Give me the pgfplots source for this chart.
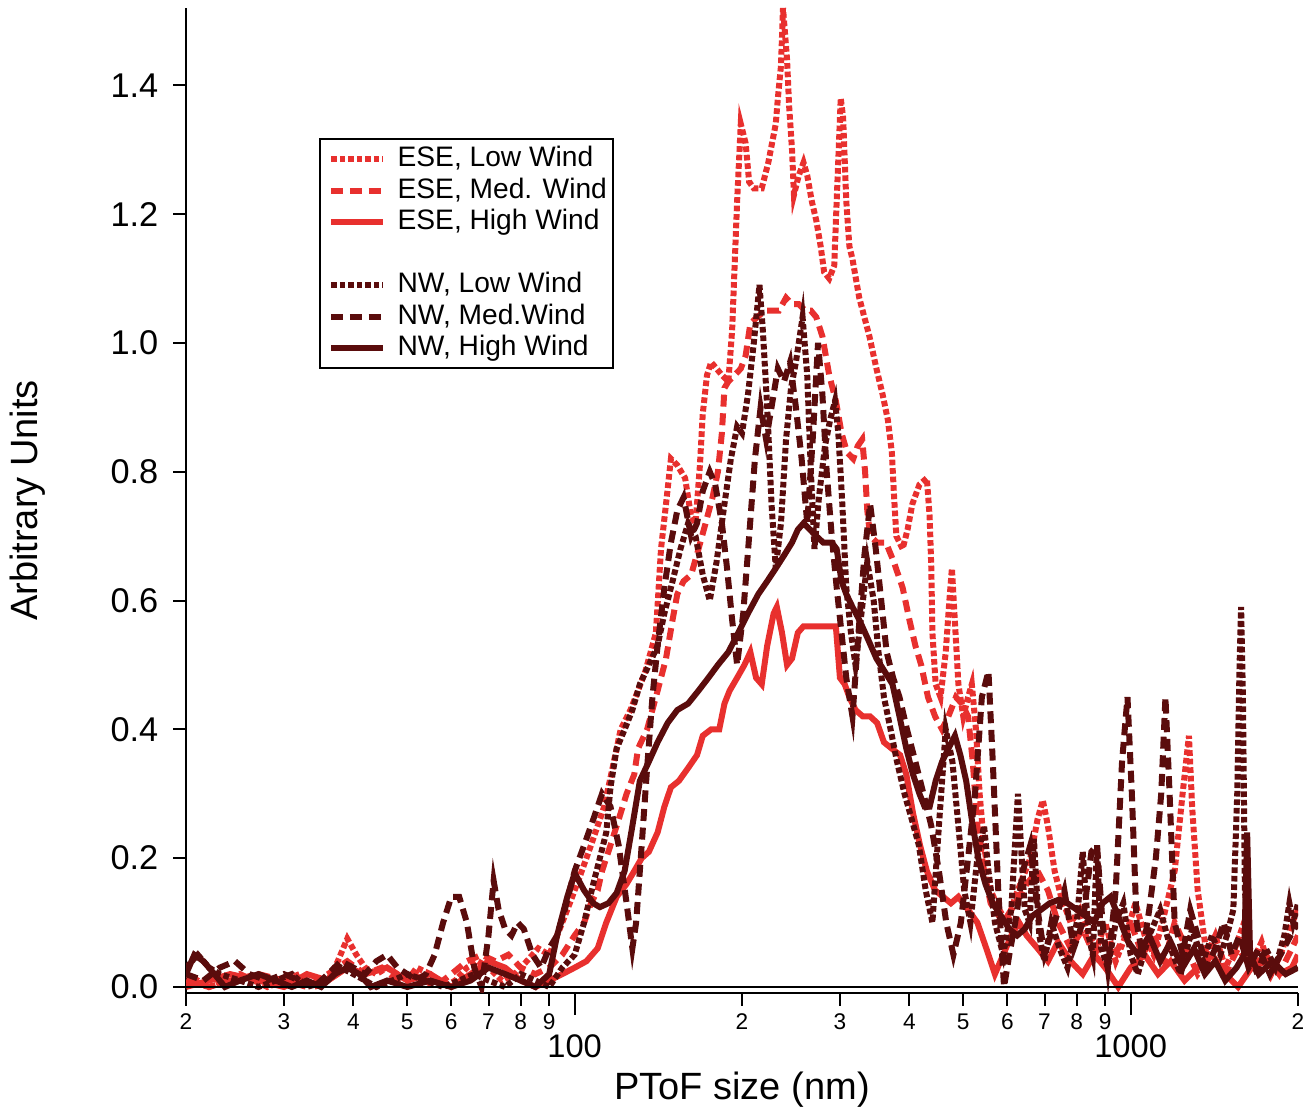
\documentclass[border=0pt]{standalone}
\usepackage{fontspec}
\setmainfont{Liberation Sans}
\usepackage{pgfplots}
\pgfplotsset{compat=1.18}
\definecolor{ese}{RGB}{232,48,46}
\definecolor{nw}{RGB}{90,12,12}
\begin{document}
\begin{tikzpicture}
\begin{axis}[
  scale only axis, width=333.6pt, height=295.5pt,
  xmode=log, xmin=20, xmax=2000, ymin=-0.0093, ymax=1.52,
  axis x line=bottom, axis y line=left,
  axis line style={-, line width=0.6pt, black},
  tick style={black, line width=0.6pt},
  tick align=outside,
  major tick length=3.8pt,
  xminorticks=false, yminorticks=false,
  xtick={20,30,40,50,60,70,80,90,200,300,400,500,600,700,800,900,2000},
  xticklabels={2,3,4,5,6,7,8,9,2,3,4,5,6,7,8,9,2},
  x tick label style={font=\fontsize{6.8}{8}\selectfont, yshift=1pt},
  extra x ticks={100,1000},
  extra x tick labels={{\fontsize{9.8}{11}\selectfont 100},{\fontsize{9.8}{11}\selectfont 1000}},
  extra x tick style={major tick length=6.6pt, tick label style={yshift=-3.5pt}},
  ytick={0,0.2,0.4,0.6,0.8,1.0,1.2,1.4},
  y tick label style={font=\fontsize{10.3}{12}\selectfont, xshift=-1pt, /pgf/number format/.cd, fixed, fixed zerofill, precision=1},
  /pgf/number format/assume math mode=true,
  xlabel={PToF size (nm)}, ylabel={Arbitrary Units},
  xlabel style={font=\fontsize{11.4}{13}\selectfont, at={(axis description cs:0.5,-0.0985)}, anchor=center},
  ylabel style={font=\fontsize{11.4}{13}\selectfont, at={(axis description cs:-0.142,0.5)}, anchor=center},
  legend cell align=left,
  legend image code/.code={\path (0pt,0pt); \draw[#1] (1.5pt,0pt) -- (17.1pt,0pt);},
  legend style={at={(axis description cs:0.1196,0.868)}, anchor=north west, draw=black, line width=0.6pt, fill=white,
    font=\fontsize{8.45}{10}\selectfont, inner xsep=1pt, inner ysep=1.3pt, row sep=0pt, column sep=2.6pt,
    nodes={inner ysep=0.55pt, inner xsep=0.8pt, text height=6.55pt, text depth=1.8pt}},
]
\addplot[ese, line width=1.8pt, dash pattern=on 1.7pt off 0.85pt] coordinates {
(20,0.02)(21,0.01)(22,0.00)(23.5,0.01)(25,0.02)(26.5,0.01)(28,0.00)(30,0.01)(32,0.02)(34,0.00)(36,0.01)(37.5,0.04)(39,0.075)(40.5,0.05)(42,0.03)(44,0.02)(46,0.03)(48,0.02)(50,0.01)(52,0.03)(55,0.02)(58,0.00)(61,0.01)(64,0.03)(67,0.04)(70,0.03)(74,0.01)(78,0.02)(82,0.04)(86,0.06)(90,0.05)(94,0.09)(98,0.13)(102,0.17)(106,0.21)(110,0.25)(113,0.28)(117,0.34)(121,0.40)(126,0.43)(130,0.46)(134,0.49)(137,0.52)(140,0.55)(143,0.68)(146,0.75)(149,0.82)(153,0.81)(158,0.79)(162,0.73)(165,0.72)(168,0.81)(170,0.89)(173,0.95)(176,0.97)(180,0.96)(184,0.95)(189,0.94)(192,1.02)(196,1.22)(199,1.34)(203,1.31)(206,1.25)(210,1.24)(217,1.24)(223,1.28)(230,1.34)(232,1.38)(235,1.43)(237,1.52)(241,1.44)(243,1.37)(246,1.30)(248,1.23)(253,1.26)(258,1.28)(262,1.26)(267,1.22)(272,1.19)(277,1.15)(281,1.11)(287,1.10)(293,1.12)(296,1.22)(301,1.38)(304,1.35)(308,1.22)(312,1.15)(316,1.13)(325,1.07)(339,1.01)(349,0.96)(358,0.92)(366,0.88)(372,0.83)(375,0.77)(379,0.70)(389,0.68)(397,0.71)(405,0.75)(417,0.78)(430,0.79)(435,0.73)(438,0.65)(440,0.55)(446,0.47)(455,0.45)(465,0.52)(472,0.60)(477,0.65)(482,0.58)(490,0.47)(500,0.42)(510,0.45)(518,0.47)(527,0.40)(535,0.30)(545,0.22)(560,0.15)(580,0.12)(600,0.10)(620,0.14)(640,0.17)(660,0.20)(680,0.26)(695,0.29)(710,0.25)(730,0.18)(750,0.14)(780,0.10)(810,0.12)(840,0.08)(870,0.06)(900,0.10)(940,0.04)(980,0.08)(1020,0.13)(1060,0.08)(1100,0.05)(1140,0.10)(1200,0.18)(1240,0.30)(1273,0.39)(1290,0.28)(1320,0.15)(1370,0.05)(1420,0.08)(1480,0.03)(1540,0.06)(1600,0.10)(1660,0.04)(1720,0.07)(1790,0.02)(1860,0.05)(1930,0.09)(2000,0.12)
};
\addlegendentry{ESE, Low Wind}
\addplot[ese, line width=1.8pt, dash pattern=on 3.6pt off 2pt] coordinates {
(20,0.01)(22,0.00)(24,0.01)(27,0.02)(30,0.01)(33,0.00)(36,0.02)(39,0.04)(42,0.02)(45,0.03)(48,0.01)(52,0.02)(56,0.00)(60,0.02)(64,0.04)(68,0.05)(72,0.04)(76,0.05)(80,0.03)(85,0.02)(90,0.03)(95,0.05)(100,0.08)(104,0.10)(107,0.13)(110,0.15)(112,0.18)(116,0.22)(120,0.26)(124,0.30)(128,0.33)(130,0.37)(135,0.40)(141,0.46)(146,0.51)(150,0.57)(153,0.61)(157,0.63)(162,0.64)(167,0.68)(172,0.72)(177,0.76)(181,0.80)(184,0.86)(186,0.93)(189,0.94)(194,0.95)(199,0.96)(203,0.98)(207,1.03)(213,1.04)(220,1.05)(227,1.05)(233,1.05)(240,1.07)(246,1.06)(253,1.06)(260,1.05)(266,1.05)(272,1.04)(279,1.01)(287,0.95)(295,0.91)(302,0.86)(309,0.83)(317,0.82)(323,0.84)(329,0.85)(333,0.80)(336,0.74)(340,0.70)(350,0.69)(363,0.69)(375,0.66)(389,0.62)(400,0.57)(410,0.53)(420,0.50)(432,0.45)(445,0.42)(458,0.40)(470,0.42)(485,0.45)(497,0.44)(510,0.42)(520,0.35)(530,0.25)(545,0.18)(560,0.13)(590,0.10)(620,0.13)(650,0.16)(680,0.18)(710,0.15)(740,0.10)(780,0.06)(820,0.09)(860,0.05)(900,0.03)(950,0.06)(1000,0.10)(1050,0.05)(1100,0.08)(1150,0.04)(1200,0.10)(1260,0.06)(1320,0.02)(1400,0.05)(1480,0.02)(1560,0.06)(1650,0.03)(1750,0.05)(1850,0.02)(1950,0.06)(2000,0.08)
};
\addlegendentry{ESE, Med. Wind}
\addplot[ese, line width=1.8pt] coordinates {
(20,0.00)(22,0.01)(24,0.02)(27,0.01)(30,0.00)(33,0.02)(36,0.01)(39,0.03)(42,0.02)(46,0.03)(50,0.01)(55,0.02)(60,0.00)(65,0.02)(70,0.04)(75,0.03)(80,0.01)(85,0.00)(90,0.01)(95,0.02)(100,0.03)(105,0.04)(110,0.06)(114,0.10)(119,0.14)(124,0.16)(128,0.18)(132,0.20)(136,0.21)(141,0.24)(145,0.28)(149,0.31)(154,0.32)(160,0.34)(166,0.36)(170,0.39)(176,0.40)(182,0.40)(186,0.44)(190,0.46)(196,0.48)(202,0.50)(207,0.52)(212,0.48)(217,0.47)(222,0.53)(228,0.58)(231,0.59)(236,0.55)(241,0.50)(246,0.51)(252,0.55)(258,0.56)(266,0.56)(275,0.56)(285,0.56)(295,0.56)(300,0.48)(306,0.47)(312,0.45)(320,0.43)(330,0.42)(340,0.42)(350,0.41)(360,0.38)(372,0.37)(385,0.36)(395,0.33)(406,0.27)(418,0.22)(430,0.18)(445,0.15)(460,0.14)(475,0.13)(490,0.14)(510,0.12)(530,0.10)(550,0.06)(570,0.02)(590,0.05)(610,0.08)(630,0.10)(650,0.08)(680,0.06)(710,0.04)(740,0.07)(780,0.04)(820,0.02)(860,0.05)(900,0.03)(950,0.00)(1000,0.03)(1060,0.05)(1120,0.02)(1180,0.04)(1250,0.01)(1320,0.03)(1400,0.05)(1480,0.02)(1560,0.00)(1650,0.03)(1750,0.04)(1850,0.02)(1950,0.03)(2000,0.05)
};
\addlegendentry{ESE, High Wind}
\addlegendimage{empty legend}
\addlegendentry{}
\addplot[nw, line width=1.8pt, dash pattern=on 1.7pt off 0.85pt] coordinates {
(20,0.03)(21,0.05)(22,0.03)(23,0.02)(25,0.01)(27,0.00)(29,0.01)(31,0.02)(33,0.00)(36,0.01)(38,0.03)(40,0.02)(42,0.01)(44,0.00)(47,0.01)(50,0.02)(54,0.01)(58,0.00)(62,0.01)(66,0.02)(70,0.01)(75,0.00)(80,0.02)(85,0.01)(90,0.00)(95,0.03)(100,0.05)(104,0.10)(108,0.16)(111,0.20)(114,0.24)(116,0.31)(119,0.37)(123,0.40)(127,0.43)(131,0.47)(136,0.50)(141,0.53)(145,0.58)(150,0.63)(155,0.68)(160,0.72)(165,0.70)(170,0.64)(175,0.60)(180,0.66)(186,0.75)(191,0.82)(196,0.87)(200,0.86)(205,0.92)(210,1.00)(215,1.09)(218,1.02)(222,0.90)(226,0.75)(230,0.65)(235,0.72)(240,0.85)(245,0.93)(250,0.97)(257,1.04)(262,0.95)(266,0.80)(270,0.68)(275,0.76)(282,0.84)(288,0.88)(294,0.91)(298,0.86)(303,0.75)(308,0.62)(314,0.55)(320,0.50)(328,0.58)(336,0.66)(345,0.60)(352,0.52)(360,0.45)(370,0.40)(380,0.35)(392,0.30)(404,0.26)(416,0.22)(428,0.15)(440,0.10)(452,0.25)(465,0.40)(478,0.35)(490,0.25)(502,0.15)(515,0.10)(530,0.20)(545,0.25)(555,0.18)(570,0.10)(590,0.05)(610,0.12)(627,0.30)(645,0.12)(658,0.10)(670,0.23)(685,0.08)(700,0.04)(720,0.10)(745,0.06)(770,0.03)(800,0.10)(820,0.21)(840,0.08)(855,0.05)(870,0.22)(885,0.06)(910,0.03)(940,0.10)(970,0.13)(1000,0.05)(1030,0.02)(1080,0.08)(1130,0.12)(1180,0.06)(1230,0.02)(1290,0.09)(1350,0.04)(1400,0.08)(1450,0.05)(1490,0.08)(1530,0.12)(1555,0.30)(1570,0.50)(1580,0.59)(1592,0.45)(1605,0.15)(1640,0.05)(1690,0.02)(1750,0.06)(1820,0.03)(1890,0.08)(1930,0.13)(1960,0.10)(2000,0.13)
};
\addlegendentry{NW, Low Wind}
\addplot[nw, line width=1.8pt, dash pattern=on 3.6pt off 2pt] coordinates {
(20,0.02)(21.5,0.01)(23,0.03)(24.5,0.04)(26,0.02)(28,0.01)(30,0.02)(32,0.01)(34,0.00)(36,0.02)(38,0.04)(40,0.03)(42,0.02)(44,0.04)(46,0.05)(48,0.03)(50,0.02)(52,0.01)(54,0.02)(56,0.05)(58,0.10)(60,0.14)(62,0.14)(64,0.10)(66,0.03)(68,0.00)(70,0.08)(71.5,0.165)(73,0.12)(75,0.09)(77,0.08)(79,0.10)(81,0.09)(84,0.05)(87,0.03)(90,0.06)(93,0.08)(96,0.12)(100,0.18)(104,0.22)(108,0.26)(112,0.30)(116,0.28)(120,0.22)(124,0.13)(127,0.06)(129,0.10)(132,0.22)(135,0.34)(138,0.45)(141,0.53)(145,0.62)(149,0.69)(153,0.74)(157,0.76)(162,0.70)(166,0.72)(170,0.77)(175,0.80)(179,0.78)(184,0.72)(188,0.65)(192,0.57)(196,0.50)(201,0.58)(206,0.70)(211,0.82)(216,0.90)(221,0.85)(226,0.90)(232,0.96)(238,0.94)(244,0.97)(250,0.90)(256,0.82)(262,0.72)(268,0.85)(274,1.00)(279,0.92)(284,0.80)(290,0.70)(296,0.62)(302,0.55)(308,0.48)(316,0.42)(324,0.55)(332,0.67)(340,0.75)(348,0.68)(356,0.60)(364,0.52)(374,0.48)(384,0.45)(396,0.40)(410,0.35)(424,0.30)(438,0.25)(452,0.18)(466,0.10)(480,0.05)(495,0.10)(510,0.20)(525,0.30)(540,0.45)(555,0.49)(565,0.35)(578,0.15)(592,0.00)(605,0.05)(620,0.10)(640,0.18)(660,0.22)(680,0.12)(700,0.05)(730,0.10)(760,0.15)(790,0.06)(820,0.10)(850,0.21)(870,0.22)(890,0.10)(910,0.03)(940,0.15)(965,0.35)(987,0.45)(1005,0.30)(1025,0.10)(1050,0.05)(1080,0.12)(1110,0.20)(1135,0.30)(1155,0.45)(1175,0.30)(1200,0.10)(1240,0.05)(1280,0.12)(1320,0.08)(1370,0.03)(1420,0.06)(1470,0.10)(1520,0.05)(1570,0.08)(1630,0.03)(1700,0.06)(1780,0.02)(1860,0.05)(1940,0.08)(2000,0.10)
};
\addlegendentry{NW, Med.Wind}
\addplot[nw, line width=1.8pt] coordinates {
(20,0.02)(20.7,0.05)(21.5,0.04)(22.5,0.02)(23.5,0.00)(25,0.01)(27,0.02)(29,0.01)(31,0.00)(33,0.01)(35,0.00)(37,0.02)(39,0.03)(41,0.02)(43,0.00)(46,0.01)(50,0.00)(55,0.01)(60,0.00)(65,0.01)(70,0.03)(75,0.02)(80,0.01)(85,0.00)(90,0.02)(93,0.08)(97,0.14)(100,0.177)(104,0.15)(108,0.13)(111,0.124)(115,0.13)(119,0.146)(123,0.18)(127,0.25)(131,0.32)(136,0.35)(141,0.38)(147,0.41)(153,0.43)(160,0.44)(167,0.46)(174,0.48)(181,0.50)(189,0.52)(197,0.55)(205,0.58)(214,0.61)(222,0.63)(230,0.65)(238,0.67)(246,0.69)(252,0.71)(258,0.72)(265,0.71)(272,0.70)(280,0.69)(290,0.69)(296,0.68)(302,0.63)(308,0.61)(316,0.59)(325,0.57)(337,0.54)(349,0.51)(361,0.49)(373,0.47)(384,0.42)(395,0.37)(406,0.33)(417,0.30)(426,0.28)(435,0.28)(446,0.32)(458,0.35)(470,0.37)(483,0.39)(494,0.36)(506,0.32)(518,0.26)(532,0.20)(548,0.16)(565,0.13)(585,0.11)(605,0.09)(625,0.08)(645,0.09)(665,0.11)(690,0.12)(715,0.13)(740,0.135)(770,0.13)(800,0.12)(830,0.11)(860,0.10)(890,0.13)(920,0.14)(950,0.11)(990,0.07)(1030,0.05)(1080,0.08)(1130,0.04)(1180,0.07)(1240,0.03)(1300,0.06)(1360,0.02)(1420,0.04)(1480,0.01)(1550,0.03)(1600,0.05)(1620,0.24)(1640,0.05)(1700,0.02)(1800,0.04)(1900,0.02)(2000,0.03)
};
\addlegendentry{NW, High Wind}
\draw[line width=0.6pt, black] (axis cs:20,0) -- (axis cs:2000,0);
\coordinate (bl) at (axis description cs:0,0);
\end{axis}
\pgfresetboundingbox
\path ([shift={(-55.8pt,-35.7pt)}]bl) rectangle +(394.8pt,333.6pt);
\end{tikzpicture}
\end{document}
